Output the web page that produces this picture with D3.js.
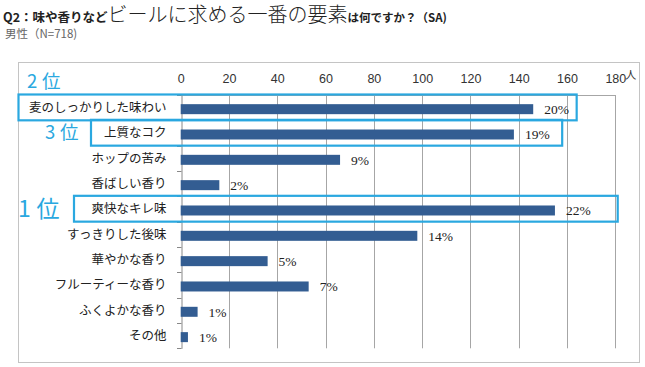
<!DOCTYPE html>
<html><head><meta charset="utf-8">
<script src="https://cdn.jsdelivr.net/npm/d3@7"></script>
<style>
html,body{margin:0;padding:0;background:#fff;}
svg{display:block;}
</style></head>
<body>
<svg id="chart" width="645" height="367"></svg>
<script>
// ---- data ----
const categories = ["麦のしっかりした味わい","上質なコク","ホップの苦み","香ばしい香り","爽快なキレ味","すっきりした後味","華やかな香り","フルーティーな香り","ふくよかな香り","その他"];
const counts = [146, 138, 66, 16, 155, 98, 36, 53, 7, 3];
const percentLabels = ["20%","19%","9%","2%","22%","14%","5%","7%","1%","1%"];
const tickValues = [0,20,40,60,80,100,120,140,160,180];
const unitLabel = "人";
const ranks = ["1位","2位","3位"];
const rankCategories = ["爽快なキレ味","麦のしっかりした味わい","上質なコク"];

// ---- layout ----
const svg = d3.select("#chart");
const blue = "#2aa8e0";
const barColor = "#335d92";
const plot = {left:180.7, right:615.3, top:95, bottom:348.3};

const x = d3.scaleLinear().domain([0,180]).range([plot.left, plot.right]);
const y = d3.scaleBand().domain(categories).range([plot.top, plot.bottom]);

// outer frame
svg.append("rect").attr("x",18.5).attr("y",62.5).attr("width",621).attr("height",300)
  .attr("fill","none").attr("stroke","#c4c4c4").attr("stroke-width",1);

// title
const title = svg.append("text").attr("x",3).attr("y",21.5).attr("fill","#222")
  .style("font-family","'Noto Sans CJK JP', sans-serif");
title.append("tspan").text("Q2：味や香りなど").style("font-size","12.5px").style("font-weight","bold");
title.append("tspan").text("ビールに求める一番の要素").style("font-size","20px").style("font-weight","300");
title.append("tspan").text("は何ですか？（SA)").style("font-size","11.5px").style("font-weight","bold");

svg.append("text").attr("x",5).attr("y",38).attr("fill","#666")
  .style("font-family","'Noto Sans CJK JP', sans-serif").style("font-size","11.5px")
  .text("男性（N=718)");

// gridlines
svg.append("g").selectAll("line").data(tickValues.slice(1)).join("line")
  .attr("x1",d=>Math.round(x(d))+0.5).attr("x2",d=>Math.round(x(d))+0.5)
  .attr("y1",plot.top).attr("y2",plot.bottom)
  .attr("stroke","#a6a6a6").attr("stroke-width",1);
// top line
svg.append("line").attr("x1",plot.left).attr("x2",plot.right)
  .attr("y1",plot.top+0.5).attr("y2",plot.top+0.5).attr("stroke","#a6a6a6");

// top axis labels
const xAxis = d3.axisTop(x).tickValues(tickValues).tickSize(0).tickPadding(0);
const gx = svg.append("g").attr("transform",`translate(0,83)`).call(xAxis);
gx.select(".domain").remove();
gx.selectAll("text").attr("fill","#333").attr("dy",0)
  .style("font-family","'Liberation Sans', Arial, sans-serif").style("font-size","12.5px");
svg.append("text").attr("x",x(180)+10).attr("y",79).attr("fill","#333")
  .style("font-family","'Noto Sans CJK JP', sans-serif").style("font-size","11px").text(unitLabel);

// left category axis
const yAxis = d3.axisLeft(y).tickSize(0).tickPadding(15);
const gy = svg.append("g").attr("transform",`translate(${Math.round(plot.left)+0.5},0)`).call(yAxis);
gy.select(".domain").attr("stroke","#888");
gy.selectAll("text").attr("fill","#222").attr("dy","0.35em")
  .style("font-family","'Noto Sans CJK JP', sans-serif").style("font-size","12.5px");
// category boundary ticks
svg.append("g").selectAll("line").data(d3.range(categories.length+1)).join("line")
  .attr("x1",Math.round(plot.left)-4).attr("x2",Math.round(plot.left)+0.5)
  .attr("y1",i=>Math.round(plot.top+i*y.step())+0.5).attr("y2",i=>Math.round(plot.top+i*y.step())+0.5)
  .attr("stroke","#888");

// bars
const barH = 10;
svg.append("g").selectAll("rect").data(categories).join("rect")
  .attr("x",x(0)).attr("y",(d)=>y(d)+y.bandwidth()/2-barH/2+1.5)
  .attr("width",(d,i)=>x(counts[i])-x(0)).attr("height",barH)
  .attr("fill",barColor);

// value labels
svg.append("g").selectAll("text").data(categories).join("text")
  .attr("x",(d,i)=>x(counts[i])+11).attr("y",(d)=>y(d)+y.bandwidth()/2+1.5)
  .attr("dy","0.35em").attr("fill","#222")
  .style("font-family","'Liberation Serif', 'Times New Roman', serif").style("font-size","13.5px")
  .text((d,i)=>percentLabels[i]);

// highlight annotations
const boxSpec = {
  "1位": {left:74, rightVal:181, labelX:18, labelY:"mid", size:23},
  "2位": {left:18.5, rightVal:164, labelX:27, labelY:"above", size:18.5},
  "3位": {left:91, rightVal:158, labelX:45, labelY:"mid", size:18.5}
};
ranks.forEach((r,i)=>{
  const c = rankCategories[i];
  const s = boxSpec[r];
  const top = y(c)-0.5, h = y.bandwidth()+0.5;
  svg.append("rect").attr("x",s.left).attr("y",top).attr("width",x(s.rightVal)-s.left).attr("height",h)
    .attr("fill","none").attr("stroke",blue).attr("stroke-width",2.2);
  const ly = s.labelY==="above" ? top-13 : top+h/2;
  const t = svg.append("text").attr("x",s.labelX).attr("y",ly).attr("dy","0.36em").attr("fill",blue)
    .style("font-family","'Noto Sans CJK JP', sans-serif").style("font-size",s.size+"px");
  t.append("tspan").text(r[0]);
  t.append("tspan").attr("dx",s.size*0.25).text(r.slice(1));
});
</script>
</body></html>
